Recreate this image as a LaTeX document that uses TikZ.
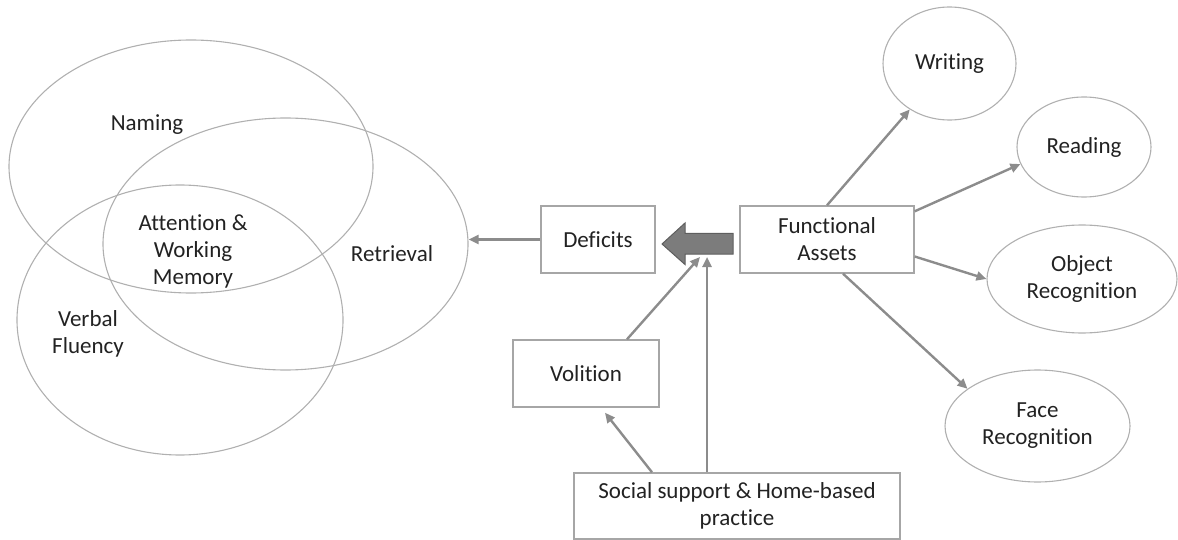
\documentclass[tikz,border=0pt]{standalone}
\usepackage{fontspec}
\setmainfont{Carlito}[Ligatures=NoCommon]
\usetikzlibrary{shapes.geometric,arrows.meta}

\definecolor{ringgray}{HTML}{B0B0B0}
\definecolor{boxgray}{HTML}{A6A6A6}
\definecolor{arrowgray}{HTML}{8C8C8C}
\definecolor{blockfill}{HTML}{7C7C7C}
\definecolor{blockline}{HTML}{5E5E5E}
\definecolor{ink}{HTML}{222222}

\begin{document}
\begin{tikzpicture}[x=1pt,y=-1pt,
  every node/.style={font=\fontsize{23}{27}\selectfont, text=ink},
  bubble/.style={ellipse, draw=ringgray, line width=1.1pt, inner sep=0pt},
  box/.style={rectangle, draw=boxgray, line width=1.4pt, fill=white,
              align=center, inner sep=0pt},
  tag/.style={align=center, inner sep=0pt},
  conn/.style={draw=arrowgray, line width=2.4pt,
               -{Triangle[length=10pt,width=9pt]}}]
\useasboundingbox (0,0) rectangle (1178,540);

% overlapping language domains
\node[bubble, minimum width=364pt, minimum height=253pt] (naming) at (191,166.5) {};
\node[bubble, minimum width=365pt, minimum height=252pt] (retr)   at (285.5,244) {};
\node[bubble, minimum width=326pt, minimum height=270pt] (verbal) at (180,320) {};

\node[tag] (tnaming) at (147,125) {Naming};
\node[tag] (tattn)   at (193,251) {Attention \&\\Working\\Memory};
\node[tag] (tretr)   at (392,254) {Retrieval};
\node[tag] (tverbal) at (88,334)  {Verbal\\Fluency};

% central boxes
\node[box, minimum width=114pt, minimum height=67pt] (defic)    at (598,239.5) {Deficits};
\node[box, minimum width=174pt, minimum height=67pt] (func)     at (827,239.5) {Functional\\Assets};
\node[box, minimum width=146pt, minimum height=67pt] (volition) at (586,373.5) {Volition};
\node[box, minimum width=326pt, minimum height=66pt] (social)   at (737,506)   {Social support \& Home-based\\practice};

% preserved abilities
\node[bubble, minimum width=133pt, minimum height=113pt] (wri)  at (949.5,63.5) {Writing};
\node[bubble, minimum width=134pt, minimum height=100pt] (read) at (1084,147)   {Reading};
\node[bubble, minimum width=190pt, minimum height=108pt, align=center] (obj)  at (1082,279)   {Object\\Recognition};
\node[bubble, minimum width=185pt, minimum height=112pt, align=center] (face) at (1037.5,426) {Face\\Recognition};

% block arrow from assets towards deficits
\coordinate (bigtip)  at (662,244);
\coordinate (volin)   at (700,257);
\coordinate (bigfoot) at (707,257);
\fill[blockfill, draw=blockline, line width=1pt, line join=miter]
  (bigtip) -- (685,223) -- (685,233.5) -- (733,233.5) -- (733,254)
  -- (685,254) -- (685,264.5) -- cycle;

% connectors
\draw[conn] (defic.west) -- (defic.west -| retr.east);
\draw[conn] (func.north) -- (wri);
\draw[conn] ([yshift=-6pt]func.north east) -- (read.195);
\draw[conn] ([yshift=-17pt]func.east) -- (obj.west);
\draw[conn] ([xshift=16pt]func.south) -- (face.152);
\draw[conn] ([xshift=41pt]volition.north) -- (volin);
\draw[conn] (bigfoot |- social.north) -- (bigfoot);
\draw[conn] ([xshift=-85pt]social.north) -- ([xshift=19pt,yshift=-5pt]volition.south);
\end{tikzpicture}
\end{document}
